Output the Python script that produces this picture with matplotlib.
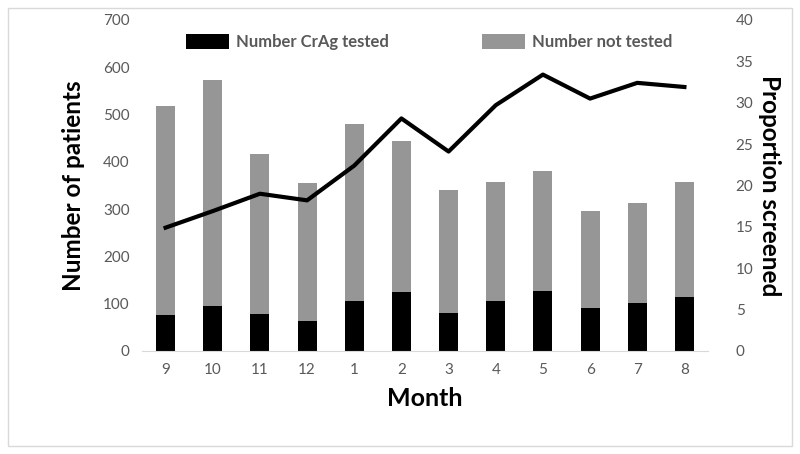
import matplotlib
matplotlib.use("Agg")
import matplotlib.pyplot as plt
from matplotlib.patches import Rectangle

# Data
months = ["9", "10", "11", "12", "1", "2", "3", "4", "5", "6", "7", "8"]
tested = [77, 96, 79, 64, 106, 125, 81, 106, 126, 91, 101, 114]
totals = [518, 573, 416, 356, 480, 445, 340, 357, 380, 297, 312, 357]
not_tested = [t - c for t, c in zip(totals, tested)]
proportion = [14.9, 16.9, 19.0, 18.2, 22.4, 28.1, 24.1, 29.7, 33.4, 30.5, 32.4, 31.9]

plt.rcParams['font.family'] = ['Lato', 'DejaVu Sans']
tick_col = '#595959'

fig = plt.figure(figsize=(8, 4.54), dpi=100)
fig.patches.append(Rectangle((0.01, 0.017), 0.98, 0.966, transform=fig.transFigure,
                             fill=False, edgecolor='#d9d9d9', linewidth=1))
ax = fig.add_axes([0.1775, 0.227, 0.7075, 0.729])
x = list(range(len(months)))

ax.bar(x, tested, width=0.4, color='black', label='Number CrAg tested', zorder=2)
ax.bar(x, not_tested, width=0.4, bottom=tested, color='#969696',
       label='Number not tested', zorder=2)
ax.set_ylim(0, 700)
ax.set_xlim(-0.5, len(months) - 0.5)
ax.set_yticks(range(0, 701, 100))
ax.set_xticks(x)
ax.set_xticklabels(months)
for s in ['top', 'left', 'right']:
    ax.spines[s].set_visible(False)
ax.spines['bottom'].set_color('#d9d9d9')
ax.tick_params(axis='both', length=0, labelsize=11, colors=tick_col, pad=9)
ax.set_ylabel('Number of patients', fontsize=17.5, fontweight='bold', labelpad=13)
ax.set_xlabel('Month', fontsize=18, fontweight='bold', labelpad=7)

ax2 = ax.twinx()
ax2.plot(x, proportion, color='black', linewidth=3, zorder=3)
ax2.set_ylim(0, 40)
ax2.set_yticks(range(0, 41, 5))
for s in ['top', 'left', 'right', 'bottom']:
    ax2.spines[s].set_visible(False)
ax2.tick_params(axis='y', length=0, labelsize=11, colors=tick_col, pad=20)
ax2.set_ylabel('Proportion screened', fontsize=17.5, fontweight='bold',
               rotation=-90, labelpad=20)

leg = ax.legend(loc='center', bbox_to_anchor=(0.536, 0.907), bbox_transform=fig.transFigure,
                ncol=2, frameon=False, handlelength=2.6, handleheight=1.0,
                columnspacing=5.6, handletextpad=0.4,
                prop={'weight': 'bold', 'size': 12})
for t in leg.get_texts():
    t.set_color(tick_col)

fig.savefig('out.png', dpi=100)
